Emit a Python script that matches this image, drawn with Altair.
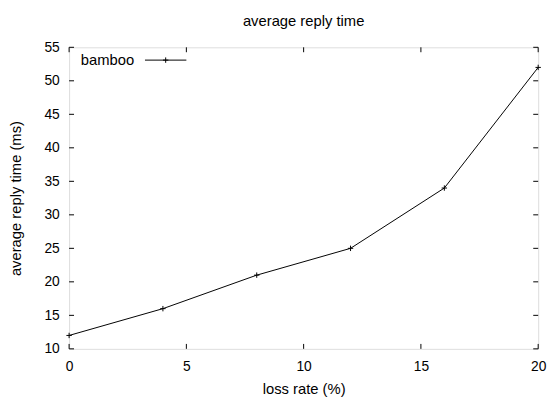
import altair as alt
import pandas as pd

loss_rate = [0, 4, 8, 12, 16, 20]
reply_ms = [12, 16, 21, 25, 34, 52]
x_ticks = [0, 5, 10, 15, 20]
y_ticks = [10, 15, 20, 25, 30, 35, 40, 45, 50, 55]
series_name = "bamboo"

W, H = 476, 306
FONT = "Liberation Sans"
LFS = 14
TFS = 15

df = pd.DataFrame({"x": loss_rate, "y": reply_ms})
xt = pd.DataFrame({"x": x_ticks})
yt = pd.DataFrame({"y": y_ticks})

xs = alt.Scale(domain=[0, 20], nice=False, zero=False)
ys = alt.Scale(domain=[10, 55], nice=False, zero=False)

xaxis = alt.Axis(values=x_ticks, title="loss rate (%)", ticks=False, domain=False,
                 grid=False, labelPadding=11, titlePadding=8, labelOverlap=False,
                 labelFlush=False,
                 labelFontSize=LFS, titleFontSize=TFS, titleFontWeight="normal",
                 labelFont=FONT, titleFont=FONT, labelColor="black", titleColor="black")
yaxis = alt.Axis(values=y_ticks, title="average reply time (ms)", ticks=False, domain=False,
                 grid=False, labelPadding=10, titlePadding=21, labelOverlap=False,
                 labelFlush=False,
                 labelFontSize=LFS, titleFontSize=TFS, titleFontWeight="normal",
                 labelFont=FONT, titleFont=FONT, labelColor="black", titleColor="black")

X = alt.X("x:Q", scale=xs, axis=xaxis, title="loss rate (%)")
Y = alt.Y("y:Q", scale=ys, axis=yaxis, title="average reply time (ms)")

base = alt.Chart(df)

line = base.mark_line(color="black", strokeWidth=1).encode(x=X, y=Y)

plus = "M-1,0L1,0M0,-1L0,1"
pts = base.mark_point(shape=plus, filled=False, color="black", strokeWidth=1, size=30,
                      opacity=1).encode(x=X, y=Y)

tl = 5
xb = alt.Chart(xt).mark_rule(color="black", strokeWidth=1).encode(
    x=X, y=alt.value(H), y2=alt.value(H - tl))
xtop = alt.Chart(xt).mark_rule(color="black", strokeWidth=1).encode(
    x=X, y=alt.value(0), y2=alt.value(tl))
yl = alt.Chart(yt).mark_rule(color="black", strokeWidth=1).encode(
    y=Y, x=alt.value(0), x2=alt.value(tl))
yr = alt.Chart(yt).mark_rule(color="black", strokeWidth=1).encode(
    y=Y, x=alt.value(W), x2=alt.value(W - tl))

leg_df = pd.DataFrame({"name": [series_name]})
leg_text = alt.Chart(leg_df).mark_text(align="right", baseline="middle", fontSize=TFS, font=FONT,
                                       color="black").encode(
    text="name:N", x=alt.value(66), y=alt.value(13))
leg_line = alt.Chart(leg_df).mark_rule(color="black", strokeWidth=1).encode(
    x=alt.value(77), x2=alt.value(119), y=alt.value(13))
leg_pt = alt.Chart(leg_df).mark_point(shape=plus, filled=False, color="black", strokeWidth=1,
                                      size=30, opacity=1).encode(
    x=alt.value(98), y=alt.value(13))

chart = alt.layer(line, pts, xb, xtop, yl, yr, leg_text, leg_line, leg_pt).properties(
    width=W, height=H,
    title=alt.TitleParams("average reply time", fontSize=TFS, font=FONT, fontWeight="normal",
                          color="black", offset=12),
    autosize=alt.AutoSizeParams(type="none"),
    padding={"left": 62, "top": 37, "right": 12, "bottom": 48},
).configure_view(stroke="black", strokeWidth=1.5).configure(background="white")

chart.save("out.html", embed_options={"renderer": "svg", "actions": False})
